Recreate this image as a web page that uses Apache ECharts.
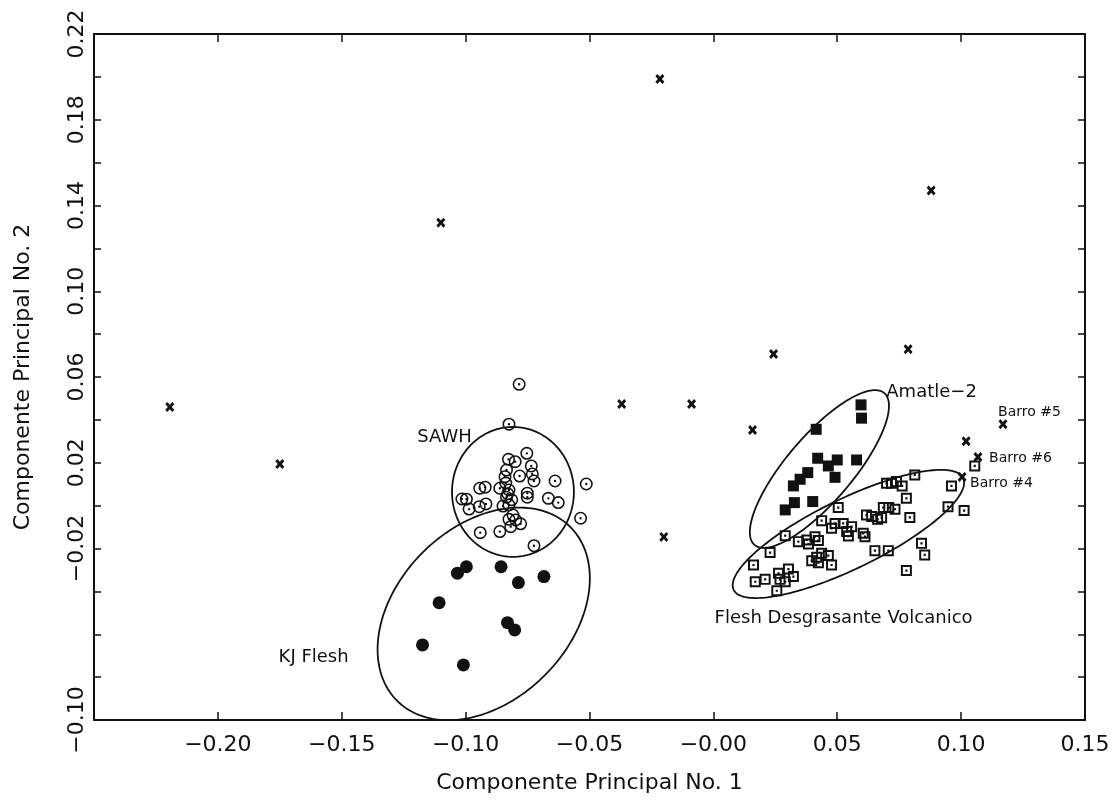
<!DOCTYPE html>
<html>
<head>
<meta charset="utf-8">
<script src="https://cdn.jsdelivr.net/npm/echarts@6/dist/echarts.min.js"></script>
<style>
html,body{margin:0;padding:0;background:#fff;}
#chart{width:1119px;height:809px;}
</style>
</head>
<body>
<div id="chart"></div>
<script>
// ---------------- data ----------------
var xTickLabels = ['', '\u22120.20', '\u22120.15', '\u22120.10', '\u22120.05', '\u22120.00', '0.05', '0.10', '0.15'];
var yLabelledTicks = [0.22, 0.18, 0.14, 0.10, 0.06, 0.02, -0.02, -0.10];

var otherSamples = [ // x marks
  [-0.2194, 0.0460], [-0.1750, 0.0194], [-0.1100, 0.1320], [-0.0216, 0.1990],
  [-0.0370, 0.0474], [-0.0088, 0.0474], [-0.0200, -0.0146], [0.0158, 0.0353],
  [0.0243, 0.0707], [0.0786, 0.0730], [0.0879, 0.1470], [0.1020, 0.0300],
  [0.1169, 0.0380], [0.1068, 0.0227], [0.1004, 0.0134]
];

var sawh = [ // open circles
  [-0.0784, 0.0566], [-0.0825, 0.0380], [-0.0753, 0.0244], [-0.0827, 0.0216],
  [-0.0800, 0.0205], [-0.0735, 0.0185], [-0.0835, 0.0166], [-0.0782, 0.0138],
  [-0.0731, 0.0148], [-0.0841, 0.0135], [-0.0724, 0.0115], [-0.0639, 0.0115],
  [-0.0513, 0.0101], [-0.0943, 0.0081], [-0.0921, 0.0086], [-0.0862, 0.0081],
  [-0.0825, 0.0073], [-0.0751, 0.0058], [-0.0751, 0.0039], [-0.1015, 0.0031],
  [-0.0997, 0.0030], [-0.0835, 0.0039], [-0.0814, 0.0027], [-0.0666, 0.0034],
  [-0.0626, 0.0014], [-0.0986, -0.0016], [-0.0945, -0.0005], [-0.0918, 0.0008],
  [-0.0849, -0.0002], [-0.0825, 0.0003], [-0.0809, -0.0044], [-0.0825, -0.0064],
  [-0.0798, -0.0067], [-0.0778, -0.0085], [-0.0818, -0.0098], [-0.0536, -0.0059],
  [-0.0941, -0.0126], [-0.0862, -0.0121], [-0.0724, -0.0187], [-0.0838, 0.0105],
  [-0.0830, 0.0055]
];

var kjFlesh = [ // filled circles
  [-0.0997, -0.0285], [-0.1033, -0.0315], [-0.0857, -0.0285], [-0.0787, -0.0359],
  [-0.0684, -0.0331], [-0.1107, -0.0453], [-0.0831, -0.0546], [-0.0802, -0.0580],
  [-0.1174, -0.0650], [-0.1009, -0.0743]
];

var amatle2 = [ // filled squares
  [0.0596, 0.0470], [0.0598, 0.0408], [0.0415, 0.0356], [0.0421, 0.0221],
  [0.0464, 0.0185], [0.0500, 0.0213], [0.0578, 0.0213], [0.0491, 0.0132],
  [0.0381, 0.0154], [0.0350, 0.0123], [0.0323, 0.0092], [0.0401, 0.0019],
  [0.0327, 0.0014], [0.0290, -0.0020]
];

var fleshVolcanico = [ // open squares
  [0.0813, 0.0143], [0.0762, 0.0092], [0.0699, 0.0104], [0.0719, 0.0104],
  [0.0739, 0.0112], [0.0961, 0.0092], [0.1055, 0.0185], [0.0947, -0.0005],
  [0.1012, -0.0023], [0.0779, 0.0034], [0.0686, -0.0009], [0.0708, -0.0009],
  [0.0733, -0.0017], [0.0618, -0.0044], [0.0639, -0.0051], [0.0663, -0.0064],
  [0.0679, -0.0056], [0.0793, -0.0055], [0.0504, -0.0009], [0.0437, -0.0070],
  [0.0491, -0.0083], [0.0524, -0.0083], [0.0558, -0.0098], [0.0538, -0.0121],
  [0.0477, -0.0106], [0.0605, -0.0129], [0.0612, -0.0145], [0.0545, -0.0142],
  [0.0290, -0.0140], [0.0343, -0.0168], [0.0377, -0.0160], [0.0410, -0.0145],
  [0.0424, -0.0163], [0.0384, -0.0179], [0.0437, -0.0222], [0.0464, -0.0233],
  [0.0417, -0.0241], [0.0477, -0.0277], [0.0424, -0.0266], [0.0397, -0.0257],
  [0.0652, -0.0210], [0.0706, -0.0210], [0.0840, -0.0176], [0.0853, -0.0230],
  [0.0779, -0.0303], [0.0229, -0.0219], [0.0162, -0.0277], [0.0263, -0.0316],
  [0.0303, -0.0296], [0.0323, -0.0331], [0.0290, -0.0355], [0.0269, -0.0344],
  [0.0169, -0.0355], [0.0209, -0.0344], [0.0256, -0.0397]
];

// ellipses: [centerX, centerY, semiAxis1EndX, semiAxis1EndY, semiAxis2EndX, semiAxis2EndY]
var groupEllipses = [
  [-0.0809, 0.0064, -0.0563, 0.0064, -0.0809, 0.0367],   // SAWH
  [-0.0927, -0.0505, -0.0577, -0.0100, -0.0680, -0.0791], // KJ Flesh
  [0.0428, 0.0171, 0.0690, 0.0525, 0.0529, 0.0071],       // Amatle-2
  [0.0545, -0.0132, 0.1008, 0.0129, 0.0607, -0.0278]      // Flesh Desgrasante Volcanico
];

var groupLabels = [
  {name: 'SAWH', value: [-0.1195, 0.0320]},
  {name: 'Amatle\u22122', value: [0.0698, 0.0530]},
  {name: 'KJ Flesh', value: [-0.1755, -0.0706]},
  {name: 'Flesh Desgrasante Volcanico', value: [0.0005, -0.0524]}
];
var sampleLabels = [
  {name: 'Barro #5', value: [0.1149, 0.0437]},
  {name: 'Barro #6', value: [0.1113, 0.0222]},
  {name: 'Barro #4', value: [0.1036, 0.0106]}
];

// ---------------- chart ----------------
var INK = '#111111';
var FONT = 'DejaVu Sans';
var crossPath = 'path://M2.2,0 L5,2.8 L7.8,0 L10,2.2 L7.2,5 L10,7.8 L7.8,10 L5,7.2 L2.2,10 L0,7.8 L2.8,5 L0,2.2 Z';
var ringDotPath = 'path://M10,0 A10,10 0 1,1 10,20 A10,10 0 1,1 10,0 Z M10,2.4 A7.6,7.6 0 1,0 10,17.6 A7.6,7.6 0 1,0 10,2.4 Z M10,8.2 A1.8,1.8 0 1,1 10,11.8 A1.8,1.8 0 1,1 10,8.2 Z';
var squareDotPath = 'path://M0,0 L10,0 L10,10 L0,10 Z M1.8,1.8 L1.8,8.2 L8.2,8.2 L8.2,1.8 Z M4.0,4.0 L6.0,4.0 L6.0,6.0 L4.0,6.0 Z';

function key(v) { return Math.round(v * 100); }
function fmtY(v) {
  var k = key(v);
  var shown = yLabelledTicks.map(key);
  if (shown.indexOf(k) < 0) return '';
  var a = Math.abs(k);
  return (k < 0 ? '\u2212' : '') + '0.' + (a < 10 ? '0' + a : a);
}
function fmtX(v) {
  var idx = Math.round((v + 0.25) / 0.05);
  return xTickLabels[idx] || '';
}

var solid = {color: INK, opacity: 1};
var axisLineStyle = {color: INK, width: 2};
var chart = echarts.init(document.getElementById('chart'), null, {renderer: 'canvas'});
chart.setOption({
  animation: false,
  backgroundColor: '#ffffff',
  grid: {left: 94, right: 34, top: 34, bottom: 89, show: false},
  xAxis: [{
    type: 'value', min: -0.25, max: 0.15, interval: 0.05,
    name: 'Componente Principal No. 1', nameLocation: 'middle', nameGap: 52,
    nameTextStyle: {fontFamily: FONT, fontSize: 22, color: INK},
    axisLine: {show: true, onZero: false, lineStyle: axisLineStyle},
    axisTick: {show: true, inside: true, length: 8, lineStyle: {color: INK, width: 1.5}},
    axisLabel: {formatter: fmtX, fontFamily: FONT, fontSize: 22, color: INK, margin: 14, showMinLabel: true, showMaxLabel: true},
    splitLine: {show: false}
  }, {
    type: 'value', position: 'top', min: -0.25, max: 0.15, interval: 0.05,
    axisLine: {show: true, onZero: false, lineStyle: axisLineStyle},
    axisTick: {show: true, inside: true, length: 8, lineStyle: {color: INK, width: 1.5}},
    axisLabel: {show: false}, splitLine: {show: false}
  }],
  yAxis: [{
    type: 'value', min: -0.10, max: 0.22, interval: 0.02,
    name: 'Componente Principal No. 2', nameLocation: 'middle', nameGap: 60, nameRotate: 90,
    nameTextStyle: {fontFamily: FONT, fontSize: 22, color: INK},
    axisLine: {show: true, onZero: false, lineStyle: axisLineStyle},
    axisTick: {show: true, inside: true, length: 7, lineStyle: {color: INK, width: 1.5}},
    axisLabel: {formatter: fmtY, rotate: 90, fontFamily: FONT, fontSize: 22, color: INK, margin: 6, showMinLabel: true, showMaxLabel: true},
    splitLine: {show: false}
  }, {
    type: 'value', position: 'right', min: -0.10, max: 0.22, interval: 0.02,
    axisLine: {show: true, onZero: false, lineStyle: axisLineStyle},
    axisTick: {show: true, inside: true, length: 7, lineStyle: {color: INK, width: 1.5}},
    axisLabel: {show: false}, splitLine: {show: false}
  }],
  series: [
    {
      type: 'custom', xAxisIndex: 0, yAxisIndex: 0, data: groupEllipses, silent: true,
      encode: {x: 0, y: 1},
      renderItem: function (params, api) {
        var c = api.coord([api.value(0), api.value(1)]);
        var a = api.coord([api.value(2), api.value(3)]);
        var b = api.coord([api.value(4), api.value(5)]);
        var ux = a[0] - c[0], uy = a[1] - c[1], vx = b[0] - c[0], vy = b[1] - c[1];
        var pts = [];
        for (var i = 0; i < 180; i++) {
          var t = i / 180 * 2 * Math.PI;
          pts.push([c[0] + ux * Math.cos(t) + vx * Math.sin(t), c[1] + uy * Math.cos(t) + vy * Math.sin(t)]);
        }
        return {type: 'polygon', shape: {points: pts}, style: {fill: 'none', stroke: INK, lineWidth: 1.8}};
      }
    },
    {type: 'scatter', data: sawh, symbol: ringDotPath, symbolSize: 13, itemStyle: solid, silent: true},
    {type: 'scatter', data: kjFlesh, symbol: 'circle', symbolSize: 13, itemStyle: solid, silent: true},
    {type: 'scatter', data: amatle2, symbol: 'rect', symbolSize: 11, itemStyle: solid, silent: true},
    {type: 'scatter', data: fleshVolcanico, symbol: squareDotPath, symbolSize: 11, itemStyle: solid, silent: true},
    {type: 'scatter', data: otherSamples, symbol: crossPath, symbolSize: [9, 10], itemStyle: solid, silent: true},
    {
      type: 'scatter', data: groupLabels, symbolSize: 0, silent: true, itemStyle: solid,
      label: {show: true, position: [0, 0], align: 'left', verticalAlign: 'middle',
        formatter: function (p) { return p.name; }, fontFamily: FONT, fontSize: 18, color: INK, opacity: 1}
    },
    {
      type: 'scatter', data: sampleLabels, symbolSize: 0, silent: true, itemStyle: solid,
      label: {show: true, position: [0, 0], align: 'left', verticalAlign: 'middle',
        formatter: function (p) { return p.name; }, fontFamily: FONT, fontSize: 14, color: INK, opacity: 1}
    }
  ]
});
</script>
</body>
</html>
